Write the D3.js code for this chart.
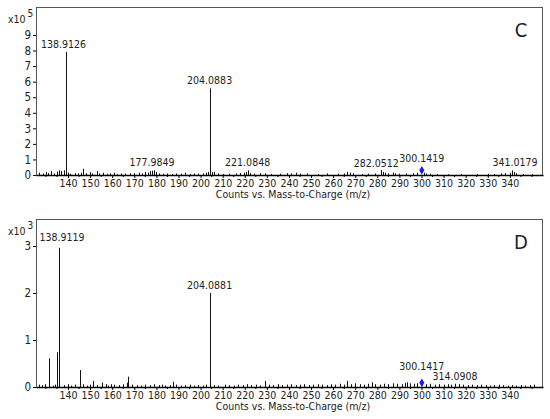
<!DOCTYPE html>
<html><head><meta charset="utf-8">
<script src="https://cdn.jsdelivr.net/npm/d3@7"></script>
<style>
body{margin:0;background:#fff;}
text{font-family:"Liberation Sans Narrow","DejaVu Sans Condensed","Liberation Sans",Arial,sans-serif;fill:#222;}
</style></head>
<body><svg id="c" width="550" height="419"></svg>
<script>
// ---------- DATA ----------
const xTicks = [140,150,160,170,180,190,200,210,220,230,240,250,260,270,280,290,300,310,320,330,340];

// Panel C (intensity x10^5)
const cMz  = [138.9,204.09,
  127,128.5,130,131,132.5,133.5,135,136,137,138,140,141,143,144.5,146,147,148,150,151,153,154,156,157.5,159,161,162,164,166,168,170,172,173.5,175,176,177,178,179,180,181,183,185,187,189,191,193,195,197,199,201,202.5,203.5,205,206,208,210,213,216,218,219.5,220.6,221.5,222.5,224,227,229,232,236,239,241,243,245,248,253,257,262,265,266.5,267.5,269,273,276,279,281.5,282.5,283.5,285,287,288,290,293,296,298,301,302,304,307,312,318,325,330,333,336,338,340,341,342,343,346,350];
const cVal = [7.92,5.57,
  0.15,0.1,0.2,0.12,0.25,0.1,0.22,0.3,0.25,0.3,0.15,0.08,0.12,0.1,0.15,0.4,0.12,0.18,0.1,0.25,0.1,0.15,0.08,0.1,0.15,0.06,0.1,0.08,0.1,0.12,0.15,0.1,0.2,0.15,0.25,0.28,0.3,0.2,0.1,0.08,0.1,0.06,0.1,0.08,0.15,0.06,0.1,0.08,0.1,0.15,0.2,0.18,0.2,0.1,0.06,0.08,0.1,0.12,0.15,0.2,0.3,0.12,0.08,0.12,0.1,0.06,0.08,0.12,0.1,0.15,0.08,0.1,0.06,0.1,0.08,0.1,0.2,0.15,0.12,0.06,0.08,0.1,0.32,0.2,0.15,0.1,0.15,0.1,0.08,0.1,0.12,0.15,0.15,0.1,0.08,0.06,0.05,0.06,0.06,0.08,0.06,0.1,0.12,0.15,0.3,0.2,0.12,0.06,0.05];
const cLabels   = ["138.9126","204.0883","177.9849","221.0848","282.0512","300.1419","341.0179"];
const cLabelMz  = [138.9,204.09,178,221.3,279.5,300.14,342.3];
const cLabelVal = [7.92,5.57,0.3,0.3,0.32,0.3,0.3];
const cMarkMz = 300.14, cMarkVal = 0.3;

// Panel D (intensity x10^3)
const dMz  = [136.05,204.09,131.4,135.1,145.6,151.4,155.4,159.4,166.6,167.3,187.7,229.3,266.2,277.5,293.6,
  127,128,129.5,133,134,138,140,141.5,143,147,148.5,150,153,157,158,161,163,165,169,171,173,175,177,179,181,182.5,184,186,189,191,193,195,197,199,201,202.5,206,208,211,213,215,217,219,221,223,225,227,231,233,235,237,239,241,243,245,247,249,251,253,255,257,259,261,263,265,268,270,272,274,276,279,281,283,285,287,289,291,292.5,295,296.5,298,302,304,306,308,310,312,313.5,315.2,317,319,321,323,325,327,329,331,333,335,337,339,341,343,345,347,349,351];
const dVal = [2.96,2.0,0.61,0.74,0.36,0.13,0.09,0.06,0.09,0.22,0.11,0.13,0.13,0.1,0.1,
  0.05,0.04,0.06,0.03,0.05,0.04,0.06,0.03,0.05,0.06,0.03,0.05,0.04,0.06,0.03,0.05,0.04,0.06,0.05,0.04,0.03,0.05,0.04,0.06,0.04,0.05,0.03,0.04,0.05,0.03,0.04,0.05,0.03,0.04,0.03,0.05,0.04,0.03,0.05,0.04,0.03,0.05,0.04,0.06,0.04,0.05,0.03,0.05,0.04,0.06,0.04,0.05,0.06,0.04,0.05,0.06,0.04,0.05,0.06,0.05,0.04,0.06,0.05,0.07,0.05,0.06,0.08,0.06,0.05,0.07,0.06,0.05,0.07,0.06,0.08,0.07,0.06,0.09,0.08,0.07,0.08,0.06,0.07,0.05,0.06,0.05,0.06,0.05,0.07,0.06,0.05,0.04,0.05,0.04,0.05,0.04,0.03,0.04,0.05,0.04,0.03,0.04,0.03,0.04,0.03,0.04,0.05,0.03,0.04];
const dLabels   = ["138.9119","204.0881","300.1417","314.0908"];
const dLabelMz  = [138.2,204.09,300.1,315.2];
const dLabelVal = [2.96,2.0,0.09,0.07];
const dMarkMz = 300.14, dMarkVal = 0.09;

// ---------- DRAW ----------
const svg = d3.select("#c");
const L = 36, R = 543;
const x = d3.scaleLinear().domain([125.5,355]).range([L,R]);

function panel(o){
  const g = svg.append("g");
  const y = d3.scaleLinear().domain([0,o.yMax]).range([o.y0,o.yTop]);
  g.append("rect").attr("x",L+0.5).attr("y",o.top+0.5).attr("width",R-L-1).attr("height",o.y0-o.top)
    .attr("fill","none").attr("stroke","#555").attr("stroke-width",1);
  g.append("g").selectAll("line").data(o.mz.map((m,i)=>[m,o.val[i]])).join("line")
    .attr("x1",d=>Math.round(x(d[0]))+0.5).attr("x2",d=>Math.round(x(d[0]))+0.5)
    .attr("y1",y(0)).attr("y2",d=>y(d[1]))
    .attr("stroke","#111").attr("stroke-width",1);
  const xa = d3.axisBottom(x).tickValues(xTicks).tickSize(3).tickSizeOuter(0).tickPadding(2).tickFormat(d3.format("d"));
  const ax = g.append("g").attr("transform",`translate(0,${o.y0})`).call(xa);
  ax.select(".domain").attr("stroke","#000").attr("stroke-width",1.6);
  ax.selectAll("text").attr("font-size","10.5px").attr("fill","#222");
  g.append("g").selectAll("line").data(d3.range(130,355,5).filter(v=>!xTicks.includes(v))).join("line")
    .attr("x1",d=>x(d)).attr("x2",d=>x(d)).attr("y1",o.y0).attr("y2",o.y0+2).attr("stroke","#000");
  const ya = d3.axisLeft(y).tickValues(d3.range(0,o.yMax+1)).tickSize(3).tickSizeOuter(0).tickPadding(2).tickFormat(d3.format("d"));
  const ay = g.append("g").attr("transform",`translate(${L},0)`).call(ya);
  ay.select(".domain").remove();
  ay.selectAll("text").attr("font-size","11.5px").attr("fill","#222");
  const ex = g.append("text").attr("x",8).attr("y",o.top+16).attr("font-size","10.5px");
  ex.append("tspan").text("x10");
  ex.append("tspan").attr("dx",2).attr("dy",-6).attr("font-size","10px").text(o.exp);
  g.append("text").attr("x",293).attr("y",o.y0+23).attr("text-anchor","middle").attr("font-size","10.5px")
    .text("Counts vs. Mass-to-Charge  (m/z)");
  g.append("g").selectAll("text").data(o.labels.map((t,i)=>[t,o.lmz[i],o.lval[i]])).join("text")
    .attr("x",d=>x(d[1]) + (o.nudge[d[0]]||[0,0])[0])
    .attr("y",d=>y(d[2]) - 4 + (o.nudge[d[0]]||[0,0])[1])
    .attr("text-anchor","middle").attr("font-size","10.5px").text(d=>d[0]);
  g.append("path").attr("d",d3.symbol(d3.symbolDiamond,22)())
    .attr("transform",`translate(${x(o.markMz)},${y(o.markVal)})`).attr("fill","#1a1ae6");
  g.append("text").attr("x",521).attr("y",o.top+30).attr("text-anchor","middle").attr("font-size","20px")
    .attr("font-family","Liberation Sans, Arial, sans-serif").attr("fill","#111").text(o.letter);
}

panel({top:7,y0:175,yTop:35,yMax:9,mz:cMz,val:cVal,labels:cLabels,lmz:cLabelMz,lval:cLabelVal,
  markMz:cMarkMz,markVal:cMarkVal,exp:"5",letter:"C",
  nudge:{"138.9126":[-2,0],"300.1419":[0,-4],"282.0512":[0,1]}});
panel({top:219,y0:387,yTop:246,yMax:3,mz:dMz,val:dVal,labels:dLabels,lmz:dLabelMz,lval:dLabelVal,
  markMz:dMarkMz,markVal:dMarkVal,exp:"3",letter:"D",
  nudge:{"138.9119":[-2,-3],"300.1417":[0,-9]}});
</script></body></html>
